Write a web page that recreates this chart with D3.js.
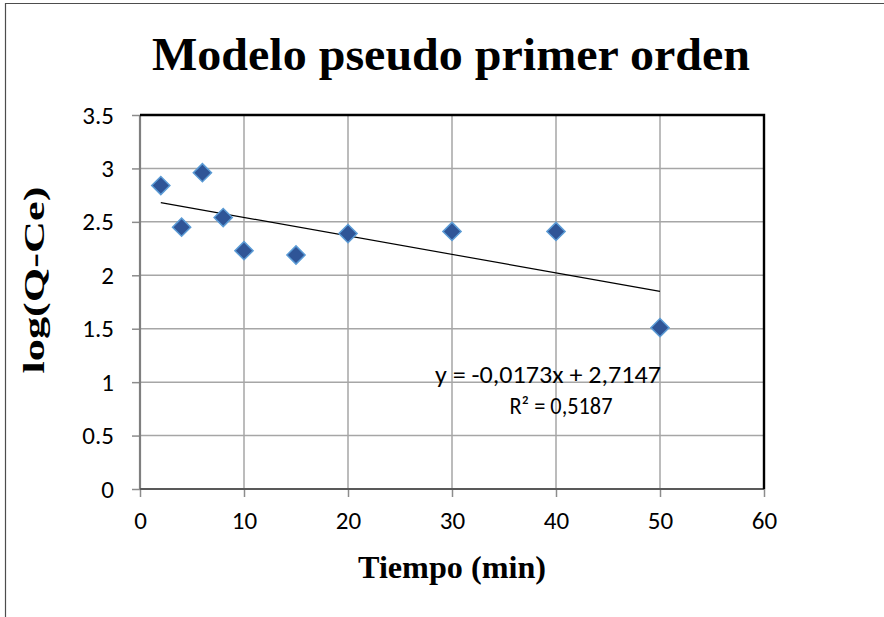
<!DOCTYPE html>
<html>
<head>
<meta charset="utf-8">
<script src="https://cdn.jsdelivr.net/npm/d3@7/dist/d3.min.js"></script>
<style>
  html, body { margin: 0; padding: 0; background: #fff; }
  svg { display: block; }
</style>
</head>
<body>
<svg id="chart" width="884" height="617"></svg>
<script>
// Adsorption kinetics: pseudo first order model
const tiempo = [2, 4, 6, 8, 10, 15, 20, 30, 40, 50];
const logQCe = [2.84, 2.45, 2.96, 2.54, 2.23, 2.19, 2.39, 2.41, 2.41, 1.51];
const xTicks = [0, 10, 20, 30, 40, 50, 60];
const yTicks = [0, 0.5, 1, 1.5, 2, 2.5, 3, 3.5];
const slope = -0.0173;
const intercept = 2.7147;
const eqLabel = "y = -0,0173x + 2,7147";
const r2Label = "R² = 0,5187";

const svg = d3.select("#chart");
const x = d3.scaleLinear().domain([0, 60]).range([140, 764]);
const y = d3.scaleLinear().domain([0, 3.5]).range([489, 115]);
const tickFont = "Carlito, Lato, 'Open Sans', sans-serif";
const serif = "'Liberation Serif', 'Times New Roman', serif";

// outer chart frame
svg.append("path")
  .attr("d", "M5.5,620 V3.5 H890")
  .attr("fill", "none").attr("stroke", "#4d4d4d").attr("stroke-width", 1.2);

// gridlines
const grid = svg.append("g").attr("stroke", "#a6a6a6").attr("stroke-width", 1.5);
grid.selectAll("line.v").data(xTicks).join("line")
  .attr("x1", d => x(d)).attr("x2", d => x(d))
  .attr("y1", y(0)).attr("y2", y(3.5));
grid.selectAll("line.h").data(yTicks).join("line")
  .attr("x1", x(0)).attr("x2", x(60))
  .attr("y1", d => y(d)).attr("y2", d => y(d));

// axes
const yAxis = d3.axisLeft(y).tickValues(yTicks).tickSize(8).tickPadding(18)
  .tickFormat(d => String(d));
const xAxis = d3.axisBottom(x).tickValues(xTicks).tickSize(8).tickPadding(14)
  .tickFormat(d => String(d));

const gy = svg.append("g").attr("transform", `translate(${x(0)},0)`).call(yAxis);
const gx = svg.append("g").attr("transform", `translate(0,${y(0)})`).call(xAxis);
[gx, gy].forEach(g => {
  g.select(".domain").remove();
  g.selectAll(".tick line").attr("stroke", "#8c8c8c").attr("stroke-width", 1.5);
  g.selectAll(".tick text").attr("fill", "#000")
    .style("font-family", tickFont).style("font-size", "25px");
});
gx.selectAll(".tick text").attr("dy", "0.71em");

// plot frame: gray axis lines, black top and right edges
svg.append("line").attr("x1", x(0)).attr("x2", x(0)).attr("y1", y(3.5)).attr("y2", y(0))
  .attr("stroke", "#7f7f7f").attr("stroke-width", 2.2);
svg.append("line").attr("x1", x(0)).attr("x2", x(60)).attr("y1", y(0)).attr("y2", y(0))
  .attr("stroke", "#595959").attr("stroke-width", 2.2);
svg.append("path")
  .attr("d", `M${x(0)},${y(3.5)} H${x(60)} V${y(0)}`)
  .attr("fill", "none").attr("stroke", "#000").attr("stroke-width", 2.4);

// linear trendline
const xMin = d3.min(tiempo), xMax = d3.max(tiempo);
svg.append("line")
  .attr("x1", x(xMin)).attr("y1", y(slope * xMin + intercept))
  .attr("x2", x(xMax)).attr("y2", y(slope * xMax + intercept))
  .attr("stroke", "#000").attr("stroke-width", 1.2);

// diamond markers
const diamond = d3.symbol().type(d3.symbolSquare).size(165);
svg.append("g").selectAll("path").data(tiempo).join("path")
  .attr("d", diamond)
  .attr("transform", (d, i) => `translate(${x(d)},${y(logQCe[i])}) rotate(45)`)
  .attr("fill", "#2f5597")
  .attr("stroke", "#5b9bd5").attr("stroke-width", 1.5);

// trendline equation
svg.append("text").text(eqLabel)
  .attr("x", 548).attr("y", 383).attr("text-anchor", "middle")
  .attr("textLength", 226).attr("lengthAdjust", "spacingAndGlyphs")
  .style("font-family", tickFont).style("font-size", "24px").attr("fill", "#000");
svg.append("text").text(r2Label)
  .attr("x", 561).attr("y", 414).attr("text-anchor", "middle")
  .attr("textLength", 103).attr("lengthAdjust", "spacingAndGlyphs")
  .style("font-family", tickFont).style("font-size", "24px").attr("fill", "#000");

// titles
svg.append("text").text("Modelo pseudo primer orden")
  .attr("x", 451).attr("y", 70).attr("text-anchor", "middle")
  .attr("textLength", 598).attr("lengthAdjust", "spacingAndGlyphs")
  .style("font-family", serif).style("font-weight", "bold").style("font-size", "46px");
svg.append("text").text("Tiempo (min)")
  .attr("x", 452).attr("y", 578).attr("text-anchor", "middle")
  .attr("textLength", 188).attr("lengthAdjust", "spacingAndGlyphs")
  .style("font-family", serif).style("font-weight", "bold").style("font-size", "31px");
svg.append("text").text("log(Q-Ce)")
  .attr("transform", "translate(44,280) rotate(-90)").attr("text-anchor", "middle")
  .attr("textLength", 187).attr("lengthAdjust", "spacingAndGlyphs")
  .style("font-family", serif).style("font-weight", "bold").style("font-size", "29px");
</script>
</body>
</html>
